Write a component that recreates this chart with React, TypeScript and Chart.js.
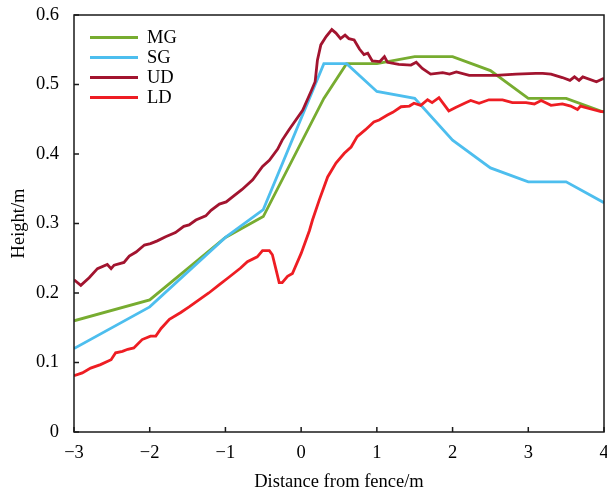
import React, { useEffect, useRef } from "react";
import { Chart, registerables } from "chart.js";

Chart.register(...registerables);

const xTicks = [-3, -2, -1, 0, 1, 2, 3, 4];
const yTicks = [0, 0.1, 0.2, 0.3, 0.4, 0.5, 0.6];

const seriesNames = ["MG", "SG", "UD", "LD"];
const seriesColors = ["#77AC30", "#4DBEEE", "#A2142F", "#EE1D23"];

const mgX = [-3, -2, -1, -0.5, 0.3, 0.6, 1, 1.5, 2, 2.5, 3, 3.5, 4];
const mgY = [0.16, 0.19, 0.28, 0.31, 0.48, 0.53, 0.53, 0.54, 0.54, 0.52, 0.48, 0.48, 0.46];

const sgX = [-3, -2, -1, -0.5, 0.3, 0.6, 1, 1.5, 2, 2.5, 3, 3.5, 4];
const sgY = [0.12, 0.18, 0.28, 0.32, 0.53, 0.53, 0.49, 0.48, 0.42, 0.38, 0.36, 0.36, 0.33];

const udX = [
  -3.0, -2.91, -2.8, -2.69, -2.56, -2.51, -2.47, -2.34, -2.27, -2.18, -2.07, -1.99, -1.9, -1.79,
  -1.66, -1.55, -1.48, -1.39, -1.26, -1.19, -1.08, -0.99, -0.91, -0.78, -0.64, -0.51, -0.42,
  -0.31, -0.25, -0.16, 0.02, 0.13, 0.185, 0.215, 0.26, 0.33, 0.405, 0.46, 0.52, 0.58, 0.63, 0.7,
  0.77, 0.83, 0.88, 0.94, 1.04, 1.1, 1.14, 1.29, 1.45, 1.52, 1.6, 1.71, 1.87, 1.96, 2.05, 2.22,
  2.39, 2.57, 2.84, 3.1, 3.19, 3.3, 3.45, 3.55, 3.61, 3.67, 3.72, 3.9, 4.0,
];
const udY = [
  0.219, 0.211, 0.222, 0.235, 0.241, 0.235, 0.24, 0.244, 0.253, 0.259, 0.269, 0.271, 0.275, 0.281,
  0.287, 0.296, 0.298, 0.305, 0.311, 0.319, 0.328, 0.331, 0.338, 0.349, 0.363, 0.382, 0.391,
  0.407, 0.42, 0.435, 0.463, 0.49, 0.504, 0.535, 0.557, 0.569, 0.579, 0.574, 0.566, 0.571, 0.566,
  0.564, 0.551, 0.543, 0.545, 0.534, 0.533, 0.54, 0.532, 0.529, 0.528, 0.532, 0.523, 0.515, 0.517,
  0.515, 0.518, 0.513, 0.513, 0.513, 0.515, 0.516, 0.516, 0.515, 0.51, 0.506, 0.511, 0.506, 0.511,
  0.504, 0.509,
];

const ldX = [
  -3.0, -2.89, -2.78, -2.65, -2.51, -2.45, -2.36, -2.29, -2.21, -2.1, -1.99, -1.92, -1.85, -1.74,
  -1.59, -1.48, -1.35, -1.22, -1.08, -0.95, -0.8, -0.71, -0.58, -0.51, -0.42, -0.38, -0.33, -0.29,
  -0.25, -0.18, -0.115, 0.0, 0.11, 0.15, 0.24, 0.35, 0.46, 0.57, 0.66, 0.74, 0.85, 0.96, 1.03, 1.14,
  1.21, 1.32, 1.43, 1.49, 1.58, 1.67, 1.73, 1.82, 1.95, 2.04, 2.18, 2.24, 2.35, 2.48, 2.66, 2.79,
  2.97, 3.08, 3.17, 3.3, 3.45, 3.56, 3.65, 3.69, 3.85, 3.96, 4.0,
];
const ldY = [
  0.081, 0.085, 0.092, 0.097, 0.104, 0.114, 0.116, 0.119, 0.121, 0.133, 0.138, 0.138, 0.149, 0.162,
  0.172, 0.18, 0.19, 0.2, 0.212, 0.223, 0.236, 0.245, 0.252, 0.261, 0.261, 0.255, 0.233, 0.215,
  0.215, 0.224, 0.228, 0.257, 0.29, 0.305, 0.334, 0.367, 0.387, 0.401, 0.41, 0.425, 0.435, 0.446,
  0.449, 0.456, 0.46, 0.468, 0.469, 0.473, 0.47, 0.478, 0.474, 0.481, 0.462, 0.467, 0.474, 0.477,
  0.473, 0.478, 0.478, 0.474, 0.474, 0.472, 0.477, 0.47, 0.472, 0.469, 0.464, 0.469, 0.464, 0.461,
  0.461,
];

const xTitle = "Distance from fence/m";
const yTitle = "Height/m";

const FONT = "'Liberation Serif', 'Times New Roman', serif";
const FS = 18.5;

const zip = (xs: number[], ys: number[]) => xs.map((x, i) => ({ x, y: ys[i] }));

const framePlugin = {
  id: "frameTicks",
  afterDraw(chart: any) {
    const { ctx, chartArea } = chart;
    const { left, right, top, bottom } = chartArea;
    const xs = chart.scales.x;
    const ys = chart.scales.y;
    ctx.save();
    ctx.strokeStyle = "#1a1a1a";
    ctx.lineWidth = 1.5;
    ctx.strokeRect(left, top, right - left, bottom - top);
    ctx.beginPath();
    xTicks.forEach((v) => {
      const p = xs.getPixelForValue(v);
      ctx.moveTo(p, bottom);
      ctx.lineTo(p, bottom - 5);
    });
    yTicks.forEach((v) => {
      const p = ys.getPixelForValue(v);
      ctx.moveTo(left, p);
      ctx.lineTo(left + 5, p);
    });
    ctx.stroke();

    // legend
    ctx.font = `${FS}px ${FONT}`;
    ctx.textBaseline = "middle";
    ctx.textAlign = "left";
    chart.data.datasets.forEach((ds: any, i: number) => {
      const y = 37.5 + 20 * i;
      ctx.strokeStyle = ds.borderColor;
      ctx.lineWidth = 3;
      ctx.beginPath();
      ctx.moveTo(90, y);
      ctx.lineTo(138, y);
      ctx.stroke();
      ctx.fillStyle = "#000";
      ctx.fillText(ds.label, 147, y + 1);
    });
    ctx.restore();
  },
};

export default function App() {
  const ref = useRef<HTMLCanvasElement | null>(null);
  useEffect(() => {
    if (!ref.current) return;
    const all = [zip(mgX, mgY), zip(sgX, sgY), zip(udX, udY), zip(ldX, ldY)];
    const chart = new Chart(ref.current, {
      type: "scatter",
      data: {
        datasets: all.map((d, i) => ({
          label: seriesNames[i],
          data: d,
          showLine: true,
          borderColor: seriesColors[i],
          backgroundColor: seriesColors[i],
          borderWidth: 2.8,
          pointRadius: 0,
          tension: 0,
          order: 3 - i,
        })),
      },
      options: {
        responsive: false,
        animation: false,
        layout: { padding: { left: 0, top: 15, right: 3, bottom: 0 } },
        plugins: { legend: { display: false }, tooltip: { enabled: false } },
        scales: {
          x: {
            type: "linear",
            min: -3,
            max: 4,
            afterBuildTicks: (s: any) => {
              s.ticks = xTicks.map((v) => ({ value: v }));
            },
            afterFit: (s: any) => {
              s.height = 62;
              s.paddingLeft = 0;
              s.paddingRight = 0;
            },
            grid: { display: false, drawTicks: false },
            border: { display: false },
            ticks: {
              padding: 10,
              color: "#000",
              font: { family: FONT, size: FS },
              maxRotation: 0,
              callback: (v: any) => (v < 0 ? "\u2212" + Math.abs(v) : String(v)),
            },
            title: {
              display: true,
              text: xTitle,
              color: "#000",
              font: { family: FONT, size: FS },
              padding: { top: 0, bottom: 0.5 },
            },
          },
          y: {
            min: 0,
            max: 0.6,
            afterBuildTicks: (s: any) => {
              s.ticks = yTicks.map((v) => ({ value: v }));
            },
            afterFit: (s: any) => {
              s.width = 74;
              s.paddingTop = 0;
              s.paddingBottom = 0;
            },
            grid: { display: false, drawTicks: false },
            border: { display: false },
            ticks: {
              padding: 15,
              color: "#000",
              font: { family: FONT, size: FS },
              callback: (v: any) => (v === 0 ? "0" : Number(v).toFixed(1)),
            },
            title: {
              display: true,
              text: yTitle,
              color: "#000",
              font: { family: FONT, size: FS },
              padding: { top: 8.5, bottom: 0 },
            },
          },
        },
      },
      plugins: [framePlugin],
    } as any);
    return () => chart.destroy();
  }, []);
  return (
    <div style={{ position: "absolute", left: 0, top: 0, width: 607, height: 494, background: "#fff" }}>
      <canvas ref={ref} width={607} height={494} />
    </div>
  );
}
